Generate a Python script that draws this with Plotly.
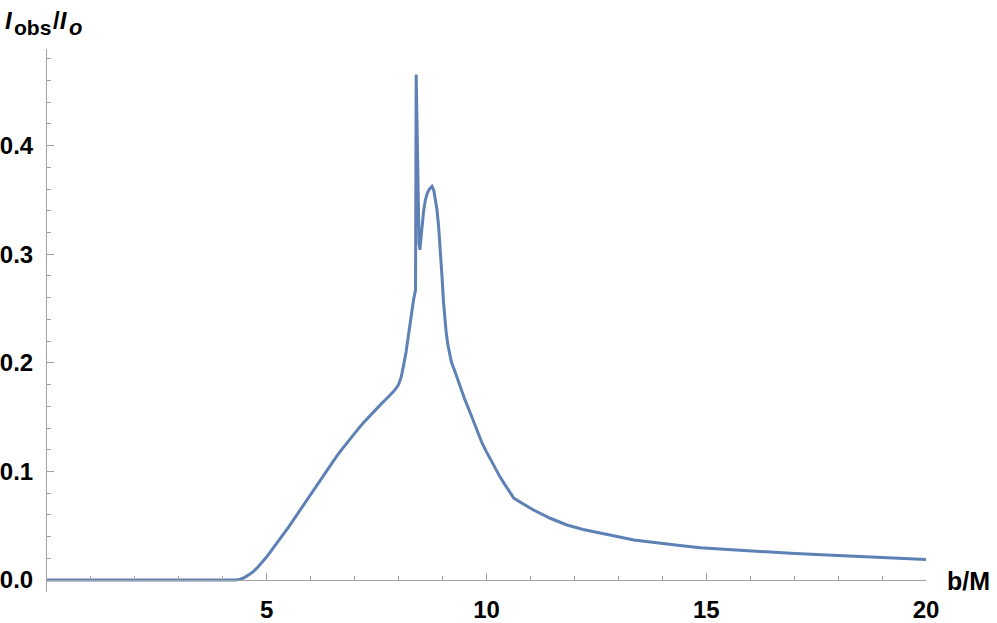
import plotly.graph_objects as go

b_values = [
    0.0, 4.3, 4.4, 4.5, 4.6, 4.7, 4.8, 4.9, 5.0, 5.1, 5.2, 5.3, 5.4, 5.5,
    5.6, 5.7, 5.8, 5.9, 6.0, 6.1, 6.2, 6.3, 6.4, 6.5, 6.6, 6.7, 6.8, 6.9,
    7.0, 7.1, 7.2, 7.3, 7.4, 7.5, 7.6, 7.7, 7.8, 7.9, 8.0, 8.06, 8.11, 8.17,
    8.23, 8.28, 8.34, 8.385, 8.40, 8.465, 8.485, 8.51, 8.53, 8.57, 8.61,
    8.65, 8.70, 8.76, 8.80, 8.83, 8.87, 8.91, 8.95, 8.99, 9.02, 9.05, 9.08,
    9.12, 9.16, 9.2, 9.3, 9.4, 9.5, 9.6, 9.7, 9.8, 9.9, 10.0, 10.1, 10.2,
    10.3, 10.4, 10.5, 10.62, 10.8, 11.07, 11.45, 11.83, 12.2, 12.59, 13.0,
    13.35, 13.7, 14.11, 14.5, 14.87, 15.4, 15.97, 16.5, 16.92, 17.5, 18.06,
    18.6, 19.19, 19.6, 20.0,
]
intensity_values = [
    0.0, 0.0, 0.0008, 0.0025, 0.005, 0.008, 0.012, 0.0165, 0.0215, 0.0268,
    0.032, 0.0375, 0.0435, 0.049, 0.055, 0.061, 0.067, 0.073, 0.079, 0.0853,
    0.0914, 0.0974, 0.1032, 0.1089, 0.1145, 0.1199, 0.1252, 0.1303, 0.1353,
    0.1401, 0.1448, 0.1493, 0.1537, 0.1579, 0.162, 0.166, 0.1699, 0.1742,
    0.180, 0.187, 0.197, 0.210, 0.227, 0.243, 0.258, 0.267, 0.4655, 0.31,
    0.304, 0.315, 0.326, 0.340, 0.350, 0.356, 0.360, 0.3625, 0.359, 0.353,
    0.342, 0.326, 0.305, 0.278, 0.257, 0.241, 0.229, 0.217, 0.208, 0.201,
    0.190, 0.178, 0.167, 0.157, 0.146, 0.136, 0.126, 0.118, 0.110, 0.103,
    0.0955, 0.089, 0.083, 0.0755, 0.071, 0.0645, 0.0569, 0.0507, 0.0465,
    0.0430, 0.0398, 0.0369, 0.0350, 0.0332, 0.0314, 0.0298, 0.0283, 0.0268,
    0.0254, 0.0246, 0.0235, 0.0224, 0.0213, 0.0203, 0.0196, 0.0190,
]

x_ticks = [5, 10, 15, 20]
y_ticks = [0.0, 0.1, 0.2, 0.3, 0.4]
y_tick_labels = ["0.0", "0.1", "0.2", "0.3", "0.4"]

font_family = "Liberation Sans, Arial, sans-serif"
axis_grey = "#a3a3a3"
curve_blue = "#5E81B5"

y_lo, y_hi = -0.011, 0.489
# plot area in window pixels, used to place the loose labels
plot_left, plot_right, plot_top, plot_bottom = 47, 926, 49, 592


def paper_x(px):
    return (px - plot_left) / (plot_right - plot_left)


def paper_y(py):
    return (plot_bottom - py) / (plot_bottom - plot_top)


fig = go.Figure()
fig.add_trace(go.Scatter(
    x=b_values,
    y=intensity_values,
    mode="lines",
    line=dict(color=curve_blue, width=3),
    showlegend=False,
))

tick_font = dict(family=font_family, size=24, color="black", weight="bold")

fig.update_layout(
    width=997,
    height=623,
    plot_bgcolor="white",
    paper_bgcolor="white",
    margin=dict(l=plot_left, r=997 - plot_right, t=plot_top, b=623 - plot_bottom),
    font=dict(family=font_family, size=24, color="black"),
    xaxis=dict(
        range=[0, 20],
        anchor="free",
        position=(0 - y_lo) / (y_hi - y_lo),
        tickvals=x_ticks,
        ticks="inside",
        ticklen=7,
        tickwidth=1,
        tickcolor=axis_grey,
        showline=True,
        linecolor=axis_grey,
        linewidth=1,
        showgrid=False,
        zeroline=False,
        automargin=False,
        tickfont=tick_font,
        ticklabelstandoff=8,
        minor=dict(dtick=1, ticks="inside", ticklen=4, tickcolor=axis_grey, showgrid=False),
    ),
    yaxis=dict(
        range=[y_lo, y_hi],
        tickvals=y_ticks,
        ticktext=y_tick_labels,
        ticks="inside",
        ticklen=7,
        tickwidth=1,
        tickcolor=axis_grey,
        showline=True,
        linecolor=axis_grey,
        linewidth=1,
        showgrid=False,
        zeroline=False,
        automargin=False,
        tickfont=tick_font,
        ticklabelstandoff=8,
        minor=dict(dtick=0.02, tick0=0, ticks="inside", ticklen=4, tickcolor=axis_grey, showgrid=False),
    ),
)

fig.add_annotation(
    text="<b>b/M</b>",
    xref="paper", yref="paper",
    x=paper_x(945), y=paper_y(581),
    xanchor="left", yanchor="middle",
    showarrow=False,
    font=dict(family=font_family, size=25, color="black"),
)

# y label I_obs / I_o, pieces placed one by one
title_pieces = [
    ("<b><i>I</i></b>", 3, 21, 24),
    ("<b>obs</b>", 12, 27, 21),
    ("<b>/<i>I</i></b>", 51, 21, 24),
    ("<b><i>o</i></b>", 67, 27, 22),
]
for text, left, middle, size in title_pieces:
    fig.add_annotation(
        text=text,
        xref="paper", yref="paper",
        x=paper_x(left), y=paper_y(middle),
        xanchor="left", yanchor="middle",
        showarrow=False,
        font=dict(family=font_family, size=size, color="black"),
    )

# drop the default page margin so the figure sits at the window's corner
fig.write_html(
    "out.html",
    config={"displayModeBar": False},
    post_script="document.body.style.margin='0';",
)
